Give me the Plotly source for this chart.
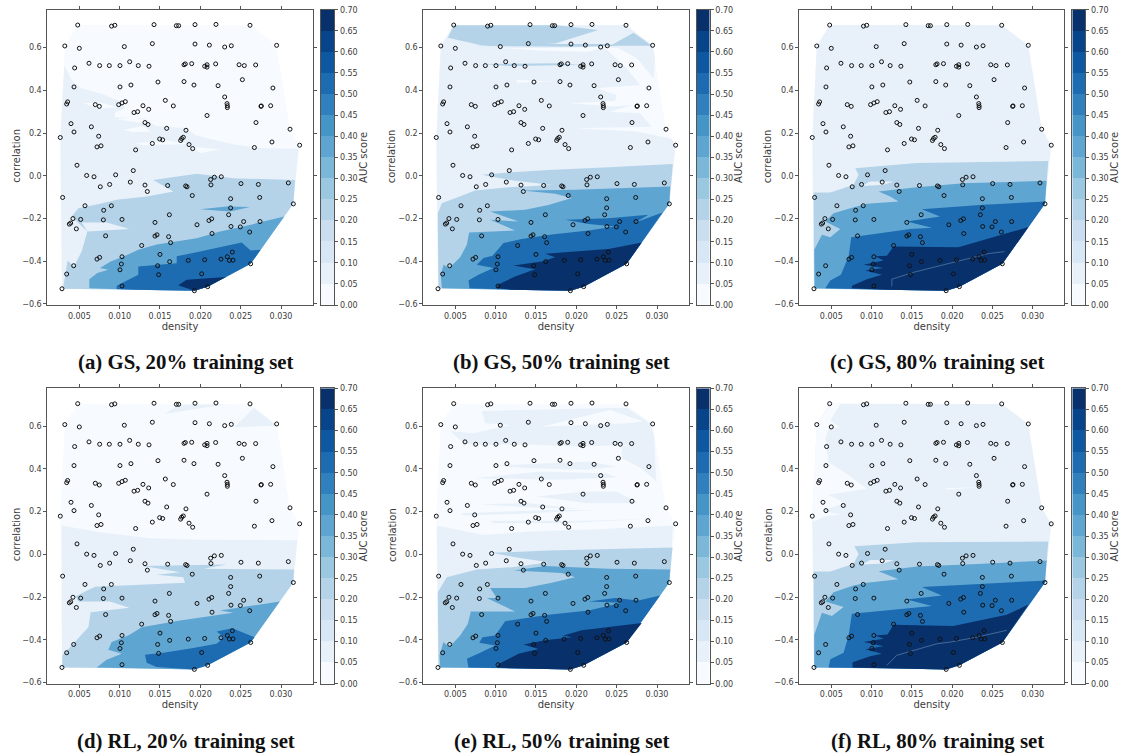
import plotly.graph_objects as go

DENSITY = [.0048,.0090,.0094,.01426,.01703,.01731,.01934,.02194,.02616,.0032,.0050,.01058,.01405,.01934,.02112,.02302,.02384,.02946,
.00442,.0062,.00752,.00872,.01004,.01124,.01231,.01364,.01798,.01814,.01893,.02054,.02083,.02083,.0219,.0248,.02545,.02686,
.00434,.01004,.0114,.01475,.01798,.01921,.0222,.02521,.029,.02302,.00355,.00343,.00698,.00748,.00988,.01029,.0107,.01289,.0136,.01178,.01223,
.01566,.01665,.02331,.02335,.02335,.02752,.02756,.02872,.02083,.00397,.00649,.00434,.01314,.01351,.01583,.01822,.0269,.03112,
.00264,.0074,.00719,.00769,.01198,.01405,.01496,.01533,.01756,.01769,.01789,.0186,.01905,.0267,.02888,.03231,
.00471,.00591,.00682,.0095,.01169,.0076,.00876,.01132,.01314,.01343,.01595,.01818,.01835,.02128,.02174,.0226,.02132,.02504,.02719,.03091,
.00293,.019,.02376,.02736,.03153,.0057,.00897,.00802,.02376,.01616,.02351,.00421,.00393,.00376,.00517,.00798,.01029,.01438,.02141,.02107,.02537,.0274,
.01959,.0238,.02496,.02612,.00463,.00826,.01438,.01463,.01607,.02145,.01632,.01273,.015,.02397,.02335,.02256,.0236,.02405,.02054,.01851,.0162,
.01029,.00752,.00719,.01021,.01004,.01471,.0043,.00343,.01483,.02017,.02624,.01029,.00285,.02091,.01926]
CORRELATION = [.706,.701,.705,.708,.703,.703,.708,.709,.705,.608,.597,.605,.619,.617,.612,.603,.609,.611,
.505,.527,.516,.516,.516,.534,.516,.513,.520,.524,.525,.513,.509,.520,.524,.520,.516,.519,
.416,.416,.425,.439,.441,.425,.422,.450,.411,.369,.346,.336,.333,.325,.333,.341,.347,.328,.311,.296,.300,
.353,.327,.338,.328,.319,.325,.327,.328,.282,.244,.229,.205,.249,.240,.222,.213,.249,.218,
.179,.185,.135,.140,.121,.151,.172,.168,.165,.174,.180,.146,.127,.132,.158,.143,
.049,.001,-.005,.004,.024,-.052,-.041,-.030,-.044,-.074,-.046,-.048,-.052,-.018,-.007,-.005,-.043,-.037,-.041,-.034,
-.102,-.093,-.108,-.102,-.132,-.141,-.141,-.162,-.151,-.183,-.183,-.201,-.222,-.227,-.205,-.207,-.205,-.219,-.202,-.210,-.215,-.215,
-.230,-.238,-.240,-.264,-.249,-.282,-.283,-.277,-.286,-.271,-.314,-.327,-.369,-.358,-.380,-.391,-.397,-.396,-.394,-.397,-.403,
-.380,-.383,-.391,-.414,-.441,-.422,-.422,-.461,-.464,-.460,-.413,-.517,-.530,-.520,-.539]

AUC_LEVELS = [round(i * 0.05, 2) for i in range(15)]
BAND_COLORS = ["#f7fbff","#e8f1fa","#d8e7f5","#cadef0","#b4d3e9","#9ac8e0","#7bb7d9","#5ea5d1","#4595c7","#3080bd","#1d6cb1","#0e58a2","#084489","#08306b"]
L0, L1, L2, L3, L4, L5 = 0, 1, 4, 7, 10, 13

TOP_HULL = [(.00264,.179),(.0032,.608),(.0048,.706),(.02616,.705),(.02946,.611),(.03112,.218),(.03231,.143)]
LOWER_PATH = [(.03153,-.132),(.02624,-.413),(.02091,-.520),(.01926,-.539),(.01186,-.534),(.00285,-.530)]

# ---------- (a) GS 20%
A1 = [(.00264,.179),(.00314,.519),(.00405,.449),(.00529,.410),(.00756,.386),(.01025,.347),(.01066,.316),(.00942,.296),(.00942,.274),(.01293,.269),(.01459,.233),(.01831,.222),(.01934,.191),(.02161,.168),(.02409,.147),(.0274,.129),(.03215,.126)]
A2 = [(.0030,-.53),(.00302,-.519),(.00355,-.397),(.00434,-.425),(.00529,-.355),(.00599,-.261),(.00405,-.191),(.00488,-.152),(.00756,-.132),(.00963,-.113),(.01335,-.098),(.01665,-.074),(.01417,-.020),(.01955,.009),(.02409,-.012),(.03174,-.020)]
A3 = [(.00624,-.528),(.00624,-.485),(.00723,-.456),(.00859,-.441),(.00756,-.433),(.00888,-.402),(.01054,-.378),(.01231,-.347),(.01459,-.323),(.01665,-.311),(.01955,-.293),(.02244,-.261),(.02533,-.238),(.03041,-.191)]
A4 = [(.00963,-.531),(.00963,-.516),(.01231,-.464),(.01231,-.425),(.01707,-.410),(.01707,-.378),(.01996,-.355),(.02512,-.313),(.02624,-.350),(.02748,-.347)]
A5 = [(.01727,-.513),(.01831,-.488),(.02318,-.475)]
A_EXTRA = [
 (L0,[(.0055,.339),(.00756,.344),(.00963,.321),(.00756,.314)]),
 (L0,[(.00963,.264),(.01169,.274),(.01335,.258),(.01417,.243),(.0119,.252)]),
 (L0,[(.01045,.215),(.01293,.233),(.01384,.207),(.01169,.204)]),
 (L0,[(.0119,.152),(.01583,.165),(.01872,.149),(.01293,.143)]),
 (L0,[(.01913,.136),(.02244,.124),(.01996,.105)]),
 (L1,[(.00529,-.219),(.00839,-.219),(.0112,-.250),(.00756,-.256),(.00599,-.261)]),
 (L3,[(.01996,-.157),(.02326,-.144),(.02616,-.147),(.02368,-.168),(.02203,-.163)]),
]

# ---------- (b) GS 50%
B1 = [(.00264,.179),(.0032,.608),(.0048,.706),(.02616,.705),(.02946,.611),(.02977,.550),(.02956,.456),(.0275,.550),(.02523,.597),(.02337,.605),(.02626,.503),(.02791,.425),(.02502,.417),(.02254,.410),(.02502,.378),(.02481,.350),(.01923,.339),(.02481,.324),(.02708,.332),(.02419,.300),(.02791,.293),(.02936,.230),(.02006,.222),(.0275,.207),(.03184,.172),(.03231,.143)]
B2 = [(.00291,-.528),(.00283,-.176),(.00333,-.129),(.00746,-.069),(.01159,-.054),(.01696,-.044),(.01221,-.023),(.00828,.004),(.01159,.015),(.01655,.027),(.02399,.040),(.03196,.055)]
B3 = [(.00333,-.528),(.00320,-.464),(.00353,-.417),(.00424,-.433),(.0056,-.382),(.00643,-.324),(.00671,-.266),(.01242,-.257),(.00932,-.207),(.01283,-.215),(.00932,-.168),(.01366,-.160),(.01655,-.137),(.01944,-.105),(.01738,-.085),(.01324,-.069),(.01985,-.066),(.03163,-.051)]
B4 = [(.00676,-.528),(.00663,-.491),(.00787,-.464),(.00973,-.433),(.00766,-.417),(.00849,-.386),(.00961,-.375),(.01097,-.316),(.01324,-.297),(.01696,-.275),(.02151,-.257),(.02481,-.238),(.02151,-.226),(.01862,-.207),(.02399,-.199),(.02895,-.183),(.02729,-.219),(.03068,-.172)]
B5 = [(.01014,-.528),(.01027,-.511),(.01242,-.472),(.0149,-.438),(.01221,-.421),(.01572,-.402),(.01738,-.382),(.01614,-.366),(.01985,-.355),(.02399,-.344),(.02812,-.313)]
B_EXTRA = [
 (L2,[(.00481,.705),(.01758,.705),(.02275,.683),(.01738,.620),(.01407,.612),(.00808,.612),(.00407,.647)]),
 (L2,[(.00746,.608),(.01242,.620),(.01738,.617),(.02399,.617),(.02502,.608),(.01985,.604)]),
 (L2,[(.02419,.609),(.02709,.670),(.02936,.609)]),
 (L2,[(.00828,.524),(.01366,.524),(.01779,.527),(.02068,.519),(.01572,.517),(.01159,.514)]),
 (L0,[(.01096,.597),(.01985,.600),(.02357,.605),(.02151,.581),(.01572,.586)]),
 (L0,[(.01262,.449),(.01738,.441),(.01262,.436)]),
]

# ---------- (c) GS 80%
C1 = TOP_HULL
C2 = [(.00285,-.53),(.00281,-.183),(.00281,-.079),(.00488,-.079),(.00777,-.043),(.00839,.004),(.00798,.035),(.01562,.059),(.03194,.069)]
C3 = [(.00293,-.528),(.00289,-.347),(.00384,-.277),(.00488,-.288),(.00612,-.250),(.00426,-.215),(.00529,-.176),(.00736,-.152),(.00942,-.132),(.01335,-.121),(.01231,-.098),(.01087,-.074),(.01562,-.054),(.0214,-.035),(.03173,-.024)]
C4 = [(.00426,-.528),(.00488,-.491),(.0062,-.464),(.00715,-.378),(.00748,-.288),(.01149,-.269),(.01479,-.250),(.01748,-.244),(.01438,-.215),(.01851,-.191),(.01624,-.157),(.02388,-.136),(.03161,-.121)]
C5 = [(.00756,-.528),(.00756,-.516),(.00942,-.485),(.01128,-.464),(.00921,-.444),(.01149,-.433),(.00901,-.417),(.01149,-.397),(.01045,-.378),(.0119,-.375),(.01273,-.332),(.01686,-.335),(.02078,-.335),(.02948,-.241)]
C_EXTRA = [(L1,[(.0088,-.048),(.00983,-.027),(.01273,-.027),(.01149,-.043)])]
C_THIN = [(.01252,-.519),(.01252,-.485),(.0152,-.453),(.0181,-.425),(.0215,-.395),(.0245,-.365),(.0265,-.356)]

# ---------- (d) RL 20%
D1 = [(.00281,.135),(.00756,.104),(.01376,.076),(.01996,.069),(.03202,.066)]
D2 = [(.00289,-.530),(.00289,-.474),(.00612,-.341),(.0064,-.271),(.01119,-.250),(.0088,-.221),(.00488,-.221),(.00455,-.196),(.00694,-.152),(.01211,-.143),(.0181,-.133),(.01789,-.107),(.01459,-.096),(.01748,-.084),(.01293,-.055),(.02326,-.048),(.0204,-.068),(.03161,-.071)]
D3 = [(.00715,-.530),(.00839,-.494),(.01025,-.466),(.00859,-.447),(.00901,-.411),(.01107,-.380),(.01273,-.341),(.01748,-.310),(.02409,-.274),(.02244,-.263),(.02985,-.221)]
D4 = [(.01459,-.528),(.01335,-.508),(.01314,-.470),(.01541,-.461),(.01913,-.439),(.02202,-.419),(.02293,-.388),(.02202,-.361),(.02397,-.346),(.02671,-.388)]
D5 = []
D_EXTRA = [
 (L1,[(.01562,.658),(.01707,.697),(.0183,.702),(.0233,.702),(.0208,.689)]),
 (L1,[(.02471,.614),(.02665,.686),(.02946,.603),(.0241,.595)]),
]

# ---------- (e) RL 50%
E1 = [(.00271,.135),(.0085,.091),(.0143,.107),(.0225,.118),(.0320,.135)]
E2 = [(.00291,-.530),(.00283,-.177),(.00394,-.107),(.00766,-.071),(.012,-.060),(.01655,-.037),(.01242,-.013),(.00953,.007),(.01655,.018),(.02399,.026),(.03192,.032)]
E3 = [(.00313,-.530),(.00304,-.474),(.00353,-.411),(.00424,-.435),(.0056,-.380),(.00655,-.325),(.00692,-.268),(.01242,-.268),(.0089,-.205),(.01014,-.205),(.00932,-.158),(.01366,-.158),(.01696,-.133),(.01985,-.107),(.0182,-.087),(.01221,-.076),(.01614,-.055),(.02399,-.068),(.03163,-.071)]
E4 = [(.00663,-.530),(.00643,-.489),(.00808,-.461),(.00994,-.427),(.00796,-.414),(.00837,-.388),(.00994,-.380),(.01118,-.313),(.01655,-.283),(.02151,-.263),(.02564,-.227),(.02151,-.221),(.02481,-.205),(.0277,-.216),(.03038,-.193)]
E5 = [(.01014,-.530),(.01035,-.514),(.01283,-.466),(.0153,-.444),(.01345,-.422),(.01614,-.403),(.01944,-.388),(.01841,-.380),(.02068,-.355),(.02399,-.340),(.02812,-.322)]
E_EXTRA = [
 (L1,[(.00828,.672),(.02626,.687),(.02915,.614),(.02965,.559),(.0299,.341),(.02833,.396),(.02564,.450),(.02564,.505),(.02688,.513),(.02047,.505),(.01428,.513),(.00725,.513),(.00601,.520),(.00436,.578),(.00725,.567),(.0118,.606),(.0087,.614)]),
 (L0,[(.01572,.598),(.02419,.676),(.02833,.622),(.02626,.614),(.02047,.606)]),
 (L1,[(.00973,.416),(.02171,.435),(.02502,.411),(.0213,.396),(.01428,.403)]),
 (L1,[(.00725,.357),(.01552,.388),(.02378,.380),(.02502,.360),(.01758,.349)]),
 (L1,[(.0151,.271),(.02089,.294),(.02502,.294),(.0277,.240),(.0213,.240)]),
 (L1,[(.00808,.235),(.01428,.240),(.02047,.213),(.01428,.219)]),
 (L1,[(.0056,.193),(.01634,.208),(.02254,.208),(.01221,.188),(.00601,.182)]),
 (L1,[(.00932,.157),(.02089,.157),(.02874,.166),(.01841,.146),(.00973,.146)]),
]

# ---------- (f) RL 80%
F1 = TOP_HULL
F2 = [(.00285,-.530),(.00281,-.177),(.00281,-.080),(.00488,-.080),(.00777,-.044),(.00839,.002),(.00785,.038),(.01562,.057),(.02388,.057),(.03194,.060)]
F3 = [(.00289,-.530),(.00289,-.377),(.00384,-.274),(.00508,-.289),(.00653,-.247),(.00426,-.221),(.00529,-.177),(.00777,-.146),(.00942,-.133),(.01335,-.117),(.01087,-.079),(.01562,-.057),(.02388,-.044),(.03173,-.029)]
F4 = [(.00467,-.530),(.00488,-.492),(.00653,-.461),(.00715,-.380),(.00756,-.278),(.01149,-.263),(.01748,-.242),(.01438,-.211),(.01872,-.193),(.01624,-.153),(.02388,-.138),(.03173,-.122)]
F5 = [(.00764,-.530),(.00764,-.505),(.00983,-.477),(.01128,-.466),(.00921,-.445),(.01149,-.431),(.00901,-.411),(.01149,-.395),(.01045,-.380),(.01198,-.375),(.01273,-.330),(.02016,-.336),(.02678,-.283),(.02948,-.235)]
F_EXTRA = [
 (L0,[(.00488,.705),(.00612,.705),(.00488,.627),(.00603,.594),(.00467,.588),(.00426,.541),(.00467,.431),(.00694,.377),(.00942,.307),(.00632,.291),(.00455,.279),(.00674,.241),(.00384,.205),(.00612,.185),(.00426,.179),(.00281,.154),(.00264,.179),(.0032,.606)]),
 (L0,[(.01913,.310),(.02347,.314),(.01954,.304)]),
 (L1,[(.0088,-.048),(.00983,-.027),(.01273,-.027),(.01149,-.043)]),
]
F_THIN = [(.0119,-.52),(.01314,-.473),(.0181,-.419),(.01975,-.411),(.02306,-.388),(.02678,-.356)]

CAPTIONS = ["(a) GS, 20% training set","(b) GS, 50% training set","(c) GS, 80% training set",
            "(d) RL, 20% training set","(e) RL, 50% training set","(f) RL, 80% training set"]
PANELS = [([A1,A2,A3,A4,A5],A_EXTRA,None),([B1,B2,B3,B4,B5],B_EXTRA,None),([C1,C2,C3,C4,C5],C_EXTRA,C_THIN),
          ([D1,D2,D3,D4,D5],D_EXTRA,None),([E1,E2,E3,E4,E5],E_EXTRA,None),([F1,F2,F3,F4,F5],F_EXTRA,F_THIN)]

W, H = 1126, 754
AX_L = [47.3, 423.3, 799.3]
AX_R = [312.7, 688.7, 1064.3]
CB_L = [320.7, 696.7, 1072.3]
CB_R = [334.3, 709.7, 1085.3]
ROW_T = [9.7, 388.3]
ROW_B = [305.0, 683.7]
CAP_X = [185.7, 561.7, 937.3]
CAP_Y = [361.7, 740.7]
YLABEL_X = [16.7, 392.3, 768.3]
XRANGE = [.00103, .03393]
YRANGE = [-.606, .778]
X_TICKS = [.005,.010,.015,.020,.025,.030]
Y_TICKS = [-.6,-.4,-.2,0,.2,.4,.6]
FONT = "DejaVu Sans"
TXT = "#3c3c3c"
LINE = "#555555"


def closed(boundary):
    xl = boundary[0][0]
    yr = boundary[-1][1]
    return list(boundary) + [p for p in LOWER_PATH if p[1] < yr and p[0] > xl]


def add_poly(fig, poly, level, n):
    fig.add_trace(go.Scatter(x=[p[0] for p in poly], y=[p[1] for p in poly], mode="lines", fill="toself",
                             fillcolor=BAND_COLORS[level], line=dict(width=0), hoverinfo="skip",
                             showlegend=False, xaxis=f"x{n}", yaxis=f"y{n}"))


fig = go.Figure()
layout = {}
annotations = []
colorscale = [[i / 13, c] for i, c in enumerate(BAND_COLORS)]
for k, (bounds, extra, thin) in enumerate(PANELS):
    row, col = k // 3, k % 3
    n = 2 * k + 1
    c = 2 * k + 2
    ydom = [1 - ROW_B[row] / H, 1 - ROW_T[row] / H]
    add_poly(fig, TOP_HULL + LOWER_PATH, L0, n)
    for lev, b in zip([L1, L2, L3, L4, L5], bounds):
        if b:
            add_poly(fig, closed(b), lev, n)
    for lev, poly in extra:
        add_poly(fig, poly, lev, n)
    if thin:
        fig.add_trace(go.Scatter(x=[p[0] for p in thin], y=[p[1] for p in thin], mode="lines",
                                 line=dict(width=0.6, color="#6f8fb5"), hoverinfo="skip", showlegend=False,
                                 xaxis=f"x{n}", yaxis=f"y{n}"))
    fig.add_trace(go.Scatter(x=DENSITY, y=CORRELATION, mode="markers",
                             marker=dict(symbol="circle-open", size=4, color="#111111", line=dict(width=1, color="#111111")),
                             hoverinfo="skip", showlegend=False, xaxis=f"x{n}", yaxis=f"y{n}"))
    fig.add_trace(go.Heatmap(x=[0, 1], y=AUC_LEVELS, z=[[i] for i in range(14)], zmin=0, zmax=13,
                             colorscale=colorscale, showscale=False, hoverinfo="skip", xaxis=f"x{c}", yaxis=f"y{c}"))
    ax_common = dict(showline=True, mirror="ticks", linecolor=LINE, linewidth=1, ticks="outside", ticklen=3,
                     tickwidth=1, tickcolor=LINE, showgrid=False, zeroline=False,
                     tickfont=dict(family=FONT, size=8, color=TXT))
    layout[f"xaxis{n}"] = dict(ax_common, domain=[AX_L[col] / W, AX_R[col] / W], range=XRANGE, tickvals=X_TICKS,
                               tickformat=".3f", anchor=f"y{n}",
                               title=dict(text="density", font=dict(family=FONT, size=10, color=TXT), standoff=2))
    layout[f"yaxis{n}"] = dict(ax_common, domain=ydom, range=YRANGE, tickvals=Y_TICKS, tickformat=".1f", anchor=f"x{n}")
    layout[f"xaxis{c}"] = dict(domain=[CB_L[col] / W, CB_R[col] / W], range=[0, 1], showticklabels=False, ticks="",
                               showline=True, mirror=True, linecolor=LINE, linewidth=1, showgrid=False, zeroline=False,
                               anchor=f"y{c}")
    layout[f"yaxis{c}"] = dict(domain=ydom, range=[0, 0.7], side="right", anchor=f"x{c}", tickvals=AUC_LEVELS,
                               tickformat=".2f", ticks="outside", ticklen=3, tickwidth=1, tickcolor=LINE,
                               showline=True, mirror=True, linecolor=LINE, linewidth=1, showgrid=False, zeroline=False,
                               tickfont=dict(family=FONT, size=8, color=TXT),
                               title=dict(text="AUC score", font=dict(family=FONT, size=10, color=TXT), standoff=2))
    annotations.append(dict(text="correlation", textangle=-90, xref="paper", yref="paper", x=YLABEL_X[col] / W,
                            y=1 - (ROW_T[row] + ROW_B[row] - 2.8) / 2 / H, xanchor="center", yanchor="middle",
                            showarrow=False, font=dict(family=FONT, size=10, color=TXT)))
    annotations.append(dict(text=f"<b>{CAPTIONS[k]}</b>", xref="paper", yref="paper", x=CAP_X[col] / W,
                            y=1 - CAP_Y[row] / H, xanchor="center", yanchor="middle", showarrow=False,
                            font=dict(family="Liberation Serif", size=20.8, color="#111111")))

fig.update_layout(width=W, height=H, margin=dict(l=0, r=0, t=0, b=0, autoexpand=False), paper_bgcolor="white",
                  plot_bgcolor="white", showlegend=False, annotations=annotations, **layout)
fig.write_html("out.html", config={"displayModeBar": False},
               post_script="document.body.style.margin='0';document.body.style.overflow='hidden';")
